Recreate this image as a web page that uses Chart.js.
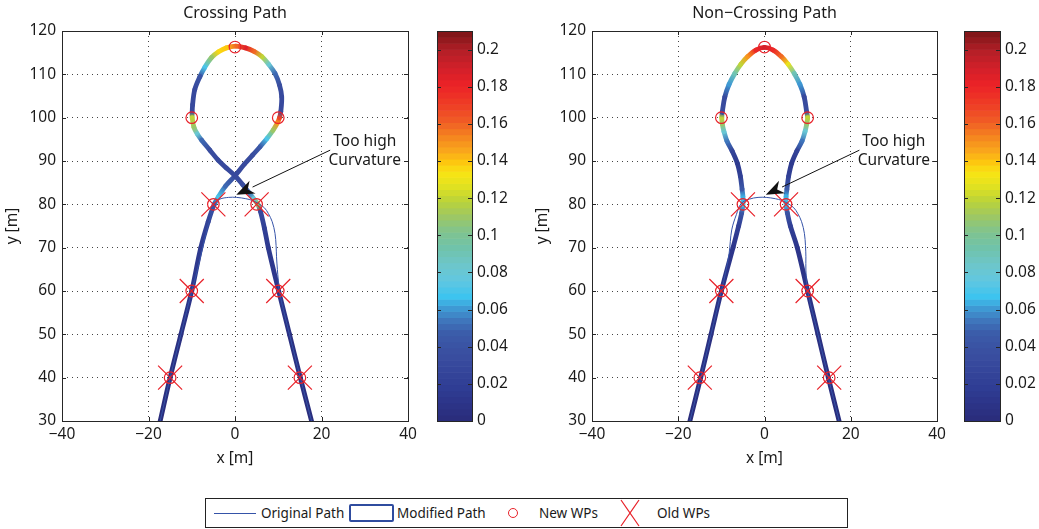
<!DOCTYPE html>
<html>
<head>
<meta charset="utf-8">
<title>Curvature of modified paths</title>
<script src="https://cdn.jsdelivr.net/npm/chart.js@4/dist/chart.umd.min.js"></script>
<style>
  body { margin: 0; background: #fff; width: 1039px; height: 529px; position: relative; overflow: hidden;
         font-family: "Noto Sans", "Open Sans", sans-serif; color: #1a1a1a; }
  canvas { position: absolute; top: 0; }
  #legend { position: absolute; left: 205px; top: 498px; width: 641px; height: 28px; border: 1px solid #222; background: #fff; }
  #legend span { position: absolute; top: 0; line-height: 28px; font-size: 13.5px; white-space: nowrap; }
  #legend .ln { position: absolute; left: 8px; top: 14px; width: 42px; height: 1px; background: #3553a8; }
  #legend .box { position: absolute; left: 143px; top: 5px; width: 41px; height: 14px; border: 2.5px solid #2f4c9f; border-radius: 2px; }
  #legend .ring { position: absolute; left: 302px; top: 9px; width: 8px; height: 8px; border: 1.2px solid #e8222a; border-radius: 50%; }
  #legend svg { position: absolute; left: 413px; top: 0; }
</style>
</head>
<body>
<canvas id="crossing" width="430" height="470" style="left:0"></canvas>
<canvas id="crossingBar" width="100" height="470" style="left:430px"></canvas>
<canvas id="nonCrossing" width="430" height="470" style="left:530px"></canvas>
<canvas id="nonCrossingBar" width="79" height="470" style="left:960px"></canvas>

<div id="legend">
  <div class="ln"></div><span style="left:55px">Original Path</span>
  <div class="box"></div><span style="left:191px">Modified Path</span>
  <div class="ring"></div><span style="left:333px">New WPs</span>
  <svg width="22" height="28"><path d="M2 1 L20 27 M20 1 L2 27" stroke="#e8222a" stroke-width="1.2" fill="none"/></svg>
  <span style="left:451px">Old WPs</span>
</div>

<script>
// curvature colour scale
const curvMax = 0.21;
const curvTicks = [0, 0.02, 0.04, 0.06, 0.08, 0.1, 0.12, 0.14, 0.16, 0.18, 0.2];
const cmapVals = [0, 0.018, 0.036, 0.047, 0.054, 0.061, 0.067, 0.076, 0.085, 0.094, 0.102, 0.111, 0.118, 0.127, 0.134, 0.14, 0.145, 0.154, 0.161, 0.17, 0.181, 0.19, 0.199, 0.21];
const cmapCols = ['#2a2b7a', '#2f3d94', '#3a4ea0', '#3b5ba9', '#3f75bb', '#3e9bd5', '#3cc4ef', '#62c7e0', '#6ec6c8', '#70c3a8', '#80c38f', '#a0c860', '#b8d23c', '#e2e21f', '#f9e413', '#fdc40f', '#faaa1b', '#f48220', '#f05e25', '#ee3f25', '#ec2227', '#d2202a', '#b51f27', '#7a1517'];

// way points
const oldWpX = [-15, -10, -5, 5, 10, 15];
const oldWpY = [40, 60, 80, 80, 60, 40];
const newWpX = [-15, -10, -5, 5, 10, 15, -10, 0, 10];
const newWpY = [40, 60, 80, 80, 60, 40, 100, 116.3, 100];

// original path (hairpin through the old way points)
const origCrossX = [-17.3, -15, -12.5, -10, -8.7, -7.6, -6.5, -5.5, -4.6, -3.5, -1.5, 0.4, 2.5, 4, 5.4, 6.8, 7.7, 8.6, 9.25, 9.5, 9.6, 9.8, 10, 10.2, 12.6, 15.1, 17.7];
const origCrossY = [30, 40, 50, 60, 64.8, 69.5, 74.1, 77.5, 80.2, 81.2, 81.6, 81.6, 81.3, 80.9, 80.2, 79.2, 77.9, 76, 73.3, 70.5, 67.9, 65, 62.5, 60, 50, 40, 30];
const origNonX = [-17.3, -14.8, -12.4, -10, -8.9, -8.2, -7.6, -6.5, -5.4, -3.5, -1.5, 0.4, 2.5, 4, 5.4, 6.8, 7.7, 8.6, 9.25, 9.5, 9.6, 9.6, 10, 12.4, 14.8, 17.3];
const origNonY = [30, 40, 50, 60, 64.8, 68.7, 74.1, 77.7, 80.2, 81.2, 81.6, 81.6, 81.3, 80.9, 80.2, 79.2, 77.9, 76, 73.3, 70.5, 67.9, 64.8, 60, 50, 40, 30];

// modified path with loop crossing itself, and its curvature
const modCrossX = [-17.3, -15, -12.5, -10, -7.9, -6.2, -4.8, -3.8, -2.2, 0, 2.2, 4.1, 5.8, 7.4, 8.8, 9.8, 10.3, 10.6, 10.8, 10.3, 9.25, 7.8, 6.2, 4.4, 2.4, 0.2, -2, -3.8, -5.4, -7, -8.1, -9.3, -9.8, -9.9, -9.9, -9.5, -8.7, -7.7, -5.8, -3.9, -2, 0, 1.8, 3.3, 4.3, 5.3, 5.9, 6.8, 7.7, 10.1, 12.6, 15.1, 17.7];
const modCrossY = [30, 40, 50, 60, 70, 76, 80, 81.8, 84.2, 86.6, 89.3, 91.4, 93.3, 95.2, 97.1, 98.8, 100, 101.5, 104.8, 107.5, 110.2, 112.3, 114.1, 115.3, 116.1, 116.5, 116.1, 115.2, 113.9, 111.6, 109.5, 106.5, 103, 101.2, 100, 97.8, 96.2, 94.8, 92.5, 90.2, 88.4, 86.6, 84.5, 82.6, 81.3, 80, 78.3, 74.5, 70, 60, 50, 40, 30];
const modCrossK = [0.003, 0.004, 0.006, 0.01, 0.015, 0.025, 0.045, 0.07, 0.05, 0.03, 0.03, 0.035, 0.045, 0.07, 0.11, 0.15, 0.17, 0.03, 0.03, 0.035, 0.05, 0.08, 0.12, 0.16, 0.185, 0.16, 0.14, 0.135, 0.11, 0.07, 0.04, 0.03, 0.03, 0.03, 0.12, 0.11, 0.08, 0.05, 0.035, 0.03, 0.03, 0.03, 0.035, 0.05, 0.08, 0.11, 0.03, 0.02, 0.015, 0.01, 0.006, 0.004, 0.003];

// modified path without crossing, and its curvature
const modNonX = [-17.3, -14.8, -12.4, -10, -7.3, -6, -5.3, -5, -5, -5.2, -5.6, -6.3, -7.5, -8.7, -9.4, -9.8, -9.9, -9.8, -9.2, -8.2, -6.9, -5.5, -3.9, -2, 0, 2, 3.9, 5.5, 6.9, 8.2, 9.2, 9.8, 10, 9.8, 9.4, 8.7, 7.5, 6.3, 5.6, 5.2, 5, 5, 5.3, 6, 7.6, 10, 12.4, 14.8, 17.3];
const modNonY = [30, 40, 50, 60, 70, 75, 78, 80, 81.8, 83.5, 86.5, 89.5, 92.3, 94.6, 96.8, 98.6, 100, 101.2, 104.8, 107.7, 110.2, 112.3, 114.1, 115.6, 116.2, 115.6, 114.1, 112.3, 110.2, 107.7, 104.8, 101.2, 100, 98.6, 96.8, 94.6, 92.3, 89.5, 86.5, 83.5, 81.8, 80, 78, 75, 70, 60, 50, 40, 30];
const modNonK = [0.003, 0.004, 0.006, 0.008, 0.012, 0.02, 0.04, 0.07, 0.065, 0.045, 0.02, 0.015, 0.025, 0.055, 0.08, 0.11, 0.12, 0.035, 0.03, 0.06, 0.09, 0.12, 0.15, 0.18, 0.19, 0.18, 0.16, 0.13, 0.09, 0.06, 0.03, 0.035, 0.12, 0.11, 0.08, 0.055, 0.025, 0.015, 0.02, 0.045, 0.065, 0.07, 0.04, 0.02, 0.012, 0.008, 0.006, 0.004, 0.003];

const FONT = '"Noto Sans", "Open Sans", sans-serif';
const INK = '#1a1a1a';
const RED = '#e8222a';

function hexRgb(h) {
  const n = parseInt(h.slice(1), 16);
  return [n >> 16, (n >> 8) & 255, n & 255];
}
function stopColor(v) {
  for (let i = 1; i < cmapVals.length; i++) {
    if (v <= cmapVals[i]) {
      const t = (v - cmapVals[i - 1]) / (cmapVals[i] - cmapVals[i - 1]);
      const a = hexRgb(cmapCols[i - 1]), b = hexRgb(cmapCols[i]);
      return `rgb(${a.map((c, j) => Math.round(c + (b[j] - c) * t)).join(',')})`;
    }
  }
  return cmapCols[cmapCols.length - 1];
}
// 64 level colormap, like the colour bar
function curvColor(k) {
  const i = Math.min(63, Math.max(0, Math.floor(k / curvMax * 64)));
  return stopColor((i + 0.5) * curvMax / 64);
}

const pts = (xs, ys) => xs.map((x, i) => ({x, y: ys[i]}));
const minus = v => String(v).replace('-', '\u2212');

// box, inward tick marks
const framePlugin = {
  id: 'frame',
  beforeDatasetsDraw(chart) {
    const {ctx, chartArea: a, scales: {x, y}} = chart;
    ctx.save();
    ctx.strokeStyle = '#262626';
    ctx.lineWidth = 1;
    ctx.beginPath();
    x.ticks.forEach(t => {
      const px = Math.round(x.getPixelForValue(t.value)) + 0.5;
      ctx.moveTo(px, a.bottom); ctx.lineTo(px, a.bottom - 4);
      ctx.moveTo(px, a.top); ctx.lineTo(px, a.top + 4);
    });
    y.ticks.forEach(t => {
      const py = Math.round(y.getPixelForValue(t.value)) + 0.5;
      ctx.moveTo(a.left, py); ctx.lineTo(a.left + 4, py);
      ctx.moveTo(a.right, py); ctx.lineTo(a.right - 4, py);
    });
    ctx.stroke();
    ctx.strokeRect(Math.round(a.left) + 0.5, Math.round(a.top) + 0.5, Math.round(a.right - a.left), Math.round(a.bottom - a.top));
    ctx.restore();
  }
};

// text arrow pointing at the hairpin
const notePlugin = {
  id: 'curvNote',
  afterDatasetsDraw(chart, args, o) {
    const {ctx, scales: {x, y}} = chart;
    const cx = x.getPixelForValue(o.textAt[0]), cy = y.getPixelForValue(o.textAt[1]);
    const lineH = 19;
    ctx.save();
    ctx.font = `15.5px ${FONT}`;
    const w = Math.max(...o.text.map(s => ctx.measureText(s).width));
    ctx.fillStyle = '#fff';
    ctx.fillRect(cx - w / 2 - 2, cy - lineH - 1, w + 4, lineH * 2 + 2);
    ctx.fillStyle = INK;
    ctx.textAlign = 'center';
    ctx.textBaseline = 'middle';
    o.text.forEach((s, i) => ctx.fillText(s, cx, cy + (i - 0.5) * lineH));
    const x0 = x.getPixelForValue(o.from[0]), y0 = y.getPixelForValue(o.from[1]);
    const x1 = x.getPixelForValue(o.to[0]), y1 = y.getPixelForValue(o.to[1]);
    const ang = Math.atan2(y1 - y0, x1 - x0);
    const L = 18, W = 7;
    const bx = x1 - L * Math.cos(ang), by = y1 - L * Math.sin(ang);
    ctx.strokeStyle = '#111';
    ctx.lineWidth = 1;
    ctx.beginPath(); ctx.moveTo(x0, y0); ctx.lineTo(bx, by); ctx.stroke();
    ctx.fillStyle = '#111';
    ctx.beginPath();
    ctx.moveTo(x1, y1);
    ctx.lineTo(bx + W * Math.sin(ang), by - W * Math.cos(ang));
    ctx.lineTo(bx + 0.3 * L * Math.cos(ang), by + 0.3 * L * Math.sin(ang));
    ctx.lineTo(bx - W * Math.sin(ang), by + W * Math.cos(ang));
    ctx.closePath(); ctx.fill();
    ctx.restore();
  }
};

function pathChart(id, title, padRight, origX, origY, modX, modY, modK) {
  return new Chart(document.getElementById(id), {
    type: 'scatter',
    data: {
      datasets: [
        { label: 'New WPs', data: pts(newWpX, newWpY), pointStyle: 'circle', pointRadius: 5.8,
          borderColor: RED, backgroundColor: 'transparent', borderWidth: 1.2 },
        { label: 'Old WPs', data: pts(oldWpX, oldWpY), pointStyle: 'crossRot', pointRadius: 17,
          borderColor: RED, borderWidth: 1.2 },
        { label: 'Original Path', data: pts(origX, origY), showLine: true, pointRadius: 0,
          borderColor: '#3553a8', borderWidth: 1, tension: 0.35 },
        { label: 'Modified Path', data: pts(modX, modY), showLine: true, pointRadius: 0,
          borderWidth: 4.8, borderCapStyle: 'round', tension: 0.35, borderColor: '#2f4c9f',
          segment: {
            // shade each piece between the curvature of its two ends
            borderColor: c => {
              const g = c.chart.ctx.createLinearGradient(c.p0.x, c.p0.y, c.p1.x, c.p1.y);
              g.addColorStop(0, curvColor(modK[c.p0DataIndex]));
              g.addColorStop(1, curvColor(modK[c.p1DataIndex]));
              return g;
            },
            borderDashOffset: c => c.p0DataIndex
          } }
      ]
    },
    options: {
      responsive: false,
      animation: false,
      events: [],
      layout: { padding: { top: 0, right: padRight, bottom: 0, left: 0 } },
      plugins: {
        legend: { display: false },
        tooltip: { enabled: false },
        title: { display: true, fullSize: false, text: title, color: INK,
                 font: { family: FONT, size: 16, weight: 'normal', lineHeight: 1.1 },
                 padding: { top: 5, bottom: 8.4 } },
        curvNote: { text: ['Too high', 'Curvature'], textAt: [30, 92.4], from: [22, 92.5], to: [0.3, 82.2] }
      },
      scales: {
        x: {
          min: -40, max: 40,
          ticks: { stepSize: 20, color: INK, font: { family: FONT, size: 15.5 }, padding: 4, callback: minus },
          grid: { color: '#444', drawTicks: false }, border: { display: false, dash: [1, 4] },
          title: { display: true, text: 'x [m]', color: INK, font: { family: FONT, size: 15.5 }, padding: { top: 0, bottom: 2 } },
          afterFit: s => { s.height = 49; s.paddingLeft = 0; s.paddingRight = 0; }
        },
        y: {
          min: 30, max: 120,
          ticks: { stepSize: 10, color: INK, font: { family: FONT, size: 15.5 }, padding: 6, callback: minus },
          grid: { color: '#444', drawTicks: false }, border: { display: false, dash: [1, 4] },
          title: { display: true, text: 'y [m]', color: INK, font: { family: FONT, size: 15.5 }, padding: { top: 3, bottom: 0 } },
          afterFit: s => { s.width = 62; s.paddingTop = 0; s.paddingBottom = 0; }
        }
      }
    },
    plugins: [framePlugin, notePlugin]
  });
}

// stepped colour bar
const barPlugin = {
  id: 'cbar',
  beforeDatasetsDraw(chart) {
    const {ctx, chartArea: a, scales: {y}} = chart;
    ctx.save();
    for (let i = 0; i < 64; i++) {
      const lo = i * curvMax / 64, hi = (i + 1) * curvMax / 64;
      const p0 = y.getPixelForValue(lo), p1 = y.getPixelForValue(hi);
      ctx.fillStyle = stopColor((lo + hi) / 2);
      ctx.fillRect(a.left, p1, a.right - a.left, p0 - p1 + 0.6);
    }
    ctx.strokeStyle = '#262626';
    ctx.lineWidth = 1;
    ctx.beginPath();
    curvTicks.forEach(v => {
      const py = Math.round(y.getPixelForValue(v)) + 0.5;
      ctx.moveTo(a.left, py); ctx.lineTo(a.left + 4, py);
      ctx.moveTo(a.right, py); ctx.lineTo(a.right - 4, py);
    });
    ctx.stroke();
    ctx.strokeRect(Math.round(a.left) + 0.5, Math.round(a.top) + 0.5, Math.round(a.right - a.left), Math.round(a.bottom - a.top));
    ctx.restore();
  }
};

function colorBar(id, padLeft, axisW) {
  return new Chart(document.getElementById(id), {
    type: 'scatter',
    data: { datasets: [] },
    options: {
      responsive: false,
      animation: false,
      events: [],
      layout: { padding: { top: 31, bottom: 49, left: padLeft, right: 0 } },
      plugins: { legend: { display: false }, tooltip: { enabled: false } },
      scales: {
        x: { display: false, min: 0, max: 1 },
        y: {
          position: 'right', min: 0, max: curvMax,
          afterBuildTicks: s => { s.ticks = curvTicks.map(v => ({ value: v })); },
          afterFit: s => { s.width = axisW; s.paddingTop = 0; s.paddingBottom = 0; },
          grid: { display: false, drawTicks: false }, border: { display: false },
          ticks: { padding: 5, color: INK, font: { family: FONT, size: 15.5 }, callback: v => String(+v.toFixed(2)) }
        }
      }
    },
    plugins: [barPlugin]
  });
}

pathChart('crossing', 'Crossing Path', 22, origCrossX, origCrossY, modCrossX, modCrossY, modCrossK);
pathChart('nonCrossing', 'Non\u2212Crossing Path', 23, origNonX, origNonY, modNonX, modNonY, modNonK);
colorBar('crossingBar', 7, 58);
colorBar('nonCrossingBar', 4, 39);
</script>
</body>
</html>
